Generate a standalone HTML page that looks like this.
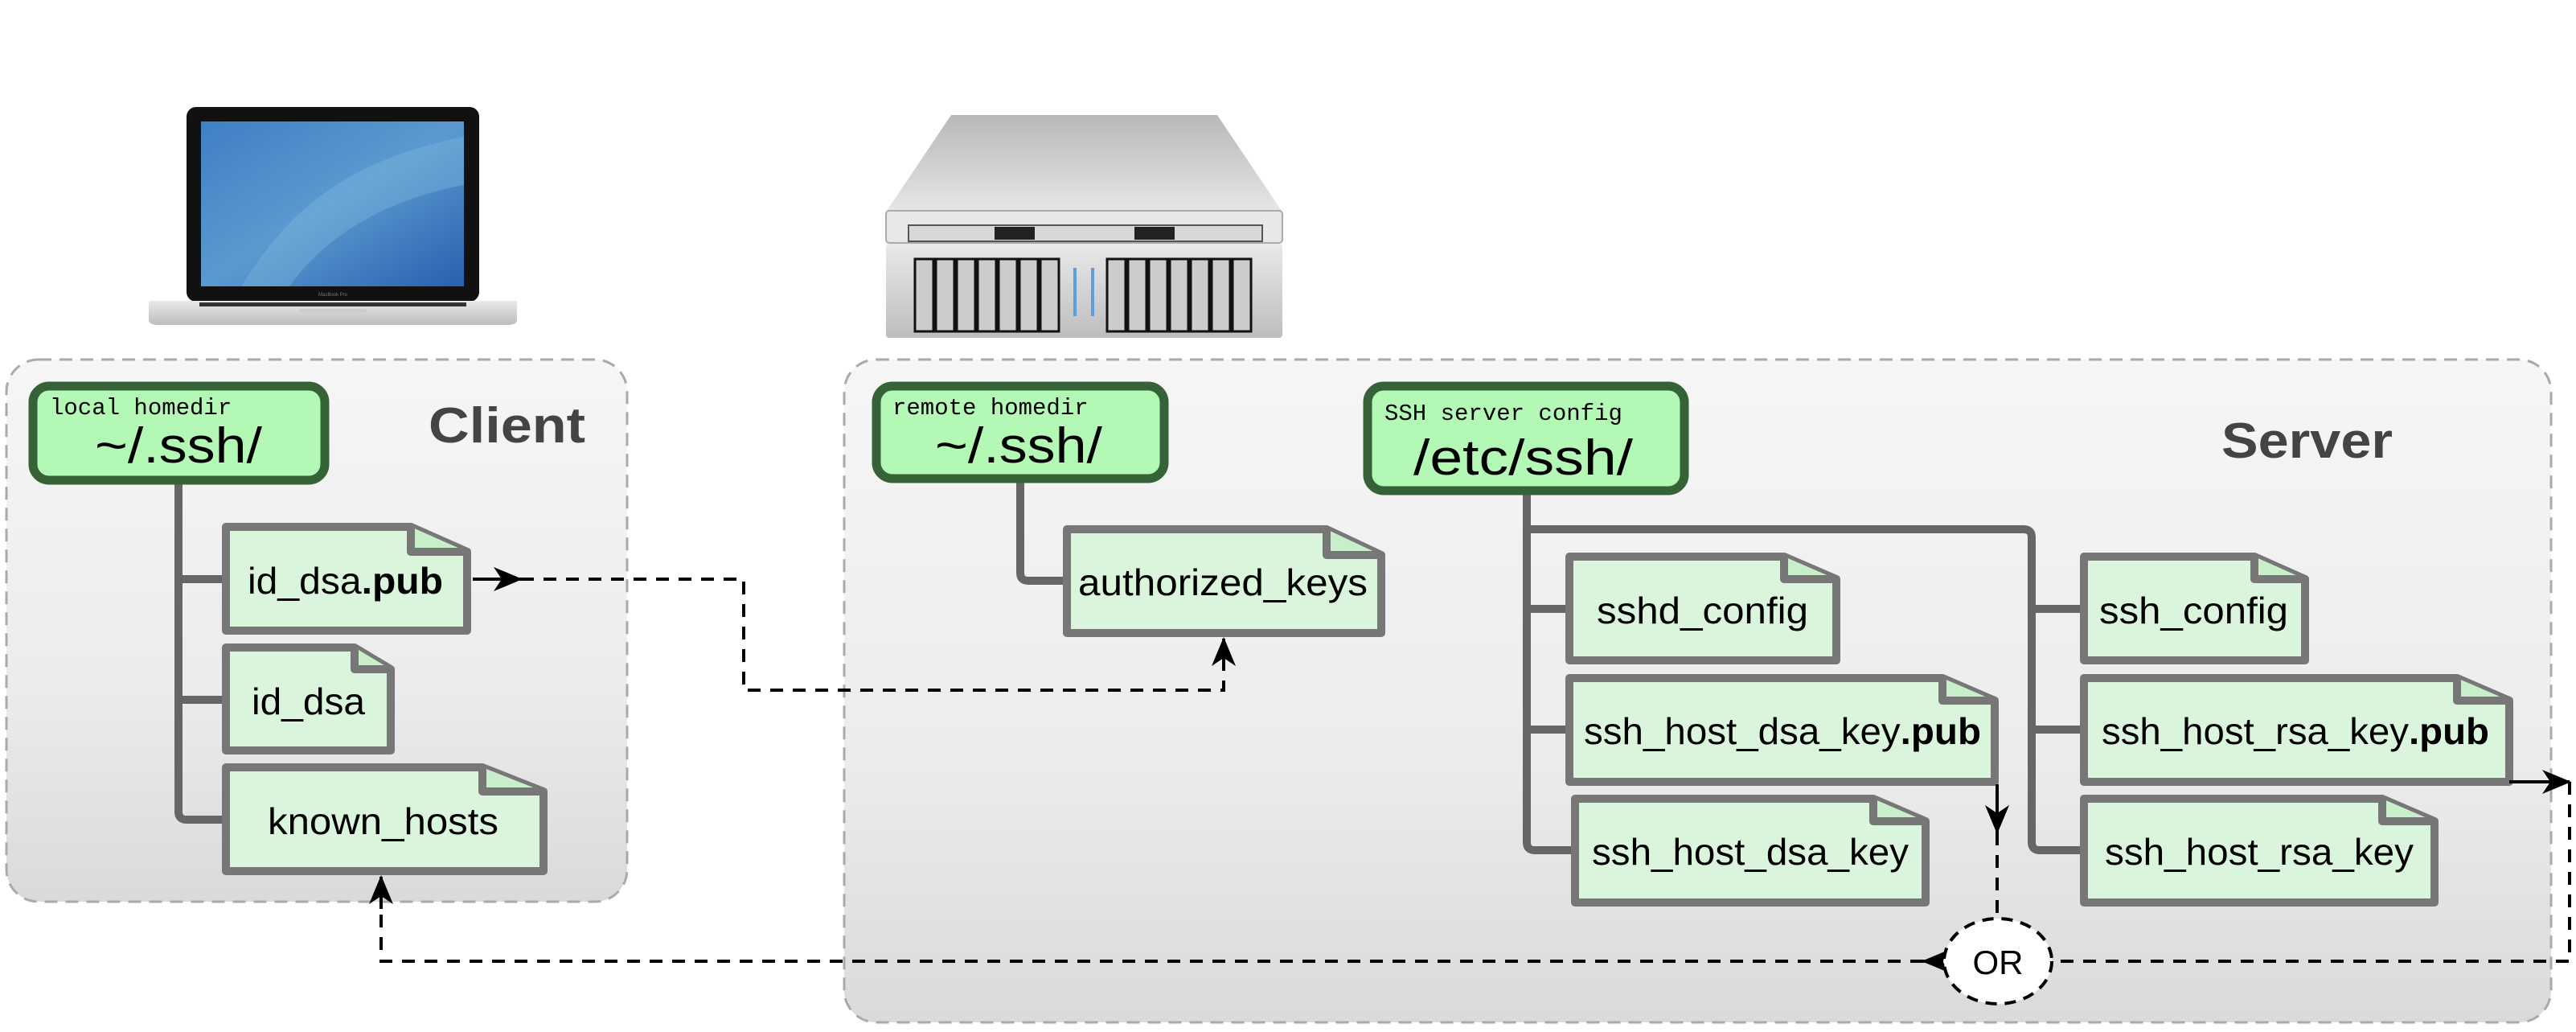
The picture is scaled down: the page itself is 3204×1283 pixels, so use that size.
<!DOCTYPE html>
<html><head><meta charset="utf-8"><style>
html,body{margin:0;padding:0;background:#fff;}
svg{display:block}
.f{font-family:"Liberation Sans",sans-serif;font-size:46px;fill:#000}
.m{font-family:"Liberation Mono",monospace;font-size:29px;fill:#000}
.big{font-family:"Liberation Sans",sans-serif;font-size:62px;fill:#000}
.t{font-family:"Liberation Sans",sans-serif;font-size:62px;font-weight:bold;fill:#444}
</style></head><body>
<svg width="3204" height="1283" viewBox="0 0 3204 1283" xmlns="http://www.w3.org/2000/svg">
<defs>
<linearGradient id="gb" x1="0" y1="0" x2="0" y2="1"><stop offset="0" stop-color="#f6f6f6"/><stop offset="0.6" stop-color="#ececec"/><stop offset="1" stop-color="#dadada"/></linearGradient>
<linearGradient id="scr" x1="0" y1="0" x2="1" y2="1"><stop offset="0" stop-color="#3f7fc4"/><stop offset="0.5" stop-color="#5a9ad0"/><stop offset="1" stop-color="#2a5fae"/></linearGradient>
<linearGradient id="sil" x1="0" y1="0" x2="0" y2="1"><stop offset="0" stop-color="#e9e9e9"/><stop offset="1" stop-color="#bdbdbd"/></linearGradient>
<linearGradient id="top" x1="0" y1="0" x2="0" y2="1"><stop offset="0" stop-color="#b8b8b8"/><stop offset="1" stop-color="#e6e6e6"/></linearGradient>
<marker id="ah" markerWidth="36" markerHeight="30" refX="34" refY="15" orient="auto" markerUnits="userSpaceOnUse" viewBox="0 0 36 30"><path d="M0,0 L36,15 L0,30 L10,15 Z" fill="#000"/></marker>
</defs>

<!-- laptop -->
<rect x="232" y="133" width="364" height="242" rx="12" fill="#111"/>
<rect x="250" y="151" width="327" height="205" fill="url(#scr)"/>
<path d="M300,356 C360,260 430,200 577,170 L577,230 C470,250 400,300 360,356 Z" fill="#7db3dc" opacity="0.45"/>
<text x="414" y="368" font-family="Liberation Sans" font-size="6" fill="#777" text-anchor="middle">MacBook Pro</text>
<path d="M185,374 L643,374 L643,398 Q643,404 630,404 L198,404 Q185,404 185,398 Z" fill="url(#sil)"/>
<rect x="248" y="376" width="332" height="5" fill="#333"/>
<rect x="372" y="384" width="84" height="5" rx="2" fill="#ccc"/>

<!-- server -->
<path d="M1183,143 L1514,143 L1594,262 L1103,262 Z" fill="url(#top)"/>
<rect x="1102" y="262" width="493" height="40" rx="4" fill="#e8e8e8" stroke="#aaa" stroke-width="2"/>
<rect x="1130" y="280" width="440" height="20" fill="#d8d8d8" stroke="#555" stroke-width="2"/>
<rect x="1237" y="282" width="50" height="16" fill="#222"/>
<rect x="1411" y="282" width="50" height="16" fill="#222"/>
<rect x="1102" y="303" width="493" height="117" rx="4" fill="url(#sil)"/>
<g fill="#ccc" stroke="#111" stroke-width="3">
<rect x="1138" y="322" width="23" height="90"/><rect x="1164" y="322" width="23" height="90"/><rect x="1190" y="322" width="23" height="90"/><rect x="1216" y="322" width="23" height="90"/><rect x="1242" y="322" width="23" height="90"/><rect x="1268" y="322" width="23" height="90"/><rect x="1294" y="322" width="23" height="90"/>
<rect x="1377" y="322" width="23" height="90"/><rect x="1403" y="322" width="23" height="90"/><rect x="1429" y="322" width="23" height="90"/><rect x="1455" y="322" width="23" height="90"/><rect x="1481" y="322" width="23" height="90"/><rect x="1507" y="322" width="23" height="90"/><rect x="1533" y="322" width="23" height="90"/>
</g>
<rect x="1335" y="333" width="4" height="60" fill="#5aa0e0"/><rect x="1357" y="333" width="4" height="60" fill="#5aa0e0"/>

<!-- group boxes -->
<rect x="8" y="447" width="772" height="674" rx="40" fill="url(#gb)" stroke="#aaa" stroke-width="3" stroke-dasharray="16,10"/>
<rect x="1050" y="447" width="2123" height="824" rx="40" fill="url(#gb)" stroke="#aaa" stroke-width="3" stroke-dasharray="16,10"/>
<text class="t" x="533" y="550" textLength="195" lengthAdjust="spacingAndGlyphs">Client</text>
<text class="t" x="2763" y="569" textLength="213" lengthAdjust="spacingAndGlyphs">Server</text>

<!-- tree lines -->
<g fill="none" stroke="#666" stroke-width="10" stroke-linecap="round">
<path d="M222,600 L222,1009 Q222,1019 232,1019 L280,1019"/>
<path d="M222,720 L280,720 M222,870 L280,870"/>
<path d="M1269,600 L1269,712 Q1269,722 1279,722 L1326,722"/>
<path d="M1899,615 L1899,1047 Q1899,1057 1909,1057 L1956,1057"/>
<path d="M1899,757 L1950,757 M1899,907 L1950,907"/>
<path d="M1899,658 L2517,658 Q2527,658 2527,668 L2527,1047 Q2527,1057 2537,1057 L2590,1057"/>
<path d="M2527,757 L2590,757 M2527,907 L2590,907"/>
</g>

<!-- dir boxes -->
<g fill="#b3f9b5" stroke="#356337" stroke-width="11">
<rect x="41" y="480" width="363" height="117" rx="20"/>
<rect x="1090" y="480" width="358" height="115" rx="20"/>
<rect x="1701" y="480" width="394" height="130" rx="20"/>
</g>
<text class="m" x="62" y="515">local homedir</text>
<text class="big" x="118" y="575" textLength="208" lengthAdjust="spacingAndGlyphs">~/.ssh/</text>
<text class="m" x="1110" y="515">remote homedir</text>
<text class="big" x="1163" y="575" textLength="208" lengthAdjust="spacingAndGlyphs">~/.ssh/</text>
<text class="m" x="1722" y="522">SSH server config</text>
<text class="big" x="1758" y="590" textLength="273" lengthAdjust="spacingAndGlyphs">/etc/ssh/</text>

<!-- files -->
<g fill="#daf5dc" stroke="#777" stroke-width="10" stroke-linejoin="round">
<path d="M281,655 L511,655 L581,686 L581,784 L281,784 Z"/><path d="M511,655 L511,686 L581,686" fill="#c8efca"/>
<path d="M281,805 L441,805 L486,832 L486,933 L281,933 Z"/><path d="M441,805 L441,832 L486,832" fill="#c8efca"/>
<path d="M281,954 L600,954 L676,984 L676,1083 L281,1083 Z"/><path d="M600,954 L600,984 L676,984" fill="#c8efca"/>
<path d="M1327,658 L1650,658 L1718,690 L1718,787 L1327,787 Z"/><path d="M1650,658 L1650,690 L1718,690" fill="#c8efca"/>
<path d="M1952,692 L2219,692 L2284,720 L2284,821 L1952,821 Z"/><path d="M2219,692 L2219,720 L2284,720" fill="#c8efca"/>
<path d="M1952,843 L2416,843 L2481,871 L2481,972 L1952,972 Z"/><path d="M2416,843 L2416,871 L2481,871" fill="#c8efca"/>
<path d="M1959,993 L2330,993 L2395,1021 L2395,1122 L1959,1122 Z"/><path d="M2330,993 L2330,1021 L2395,1021" fill="#c8efca"/>
<path d="M2592,692 L2804,692 L2867,720 L2867,821 L2592,821 Z"/><path d="M2804,692 L2804,720 L2867,720" fill="#c8efca"/>
<path d="M2592,843 L3056,843 L3121,871 L3121,972 L2592,972 Z"/><path d="M3056,843 L3056,871 L3121,871" fill="#c8efca"/>
<path d="M2592,993 L2963,993 L3028,1021 L3028,1122 L2592,1122 Z"/><path d="M2963,993 L2963,1021 L3028,1021" fill="#c8efca"/>
</g>
<text class="f" x="308" y="738" textLength="243" lengthAdjust="spacingAndGlyphs">id_dsa<tspan font-weight="bold">.pub</tspan></text>
<text class="f" x="313" y="888" textLength="141" lengthAdjust="spacingAndGlyphs">id_dsa</text>
<text class="f" x="333" y="1037" textLength="287" lengthAdjust="spacingAndGlyphs">known_hosts</text>
<text class="f" x="1341" y="740" textLength="360" lengthAdjust="spacingAndGlyphs">authorized_keys</text>
<text class="f" x="1986" y="775" textLength="263" lengthAdjust="spacingAndGlyphs">sshd_config</text>
<text class="f" x="1970" y="925" textLength="494" lengthAdjust="spacingAndGlyphs">ssh_host_dsa_key<tspan font-weight="bold">.pub</tspan></text>
<text class="f" x="1980" y="1075" textLength="394" lengthAdjust="spacingAndGlyphs">ssh_host_dsa_key</text>
<text class="f" x="2611" y="775" textLength="235" lengthAdjust="spacingAndGlyphs">ssh_config</text>
<text class="f" x="2614" y="925" textLength="482" lengthAdjust="spacingAndGlyphs">ssh_host_rsa_key<tspan font-weight="bold">.pub</tspan></text>
<text class="f" x="2618" y="1075" textLength="384" lengthAdjust="spacingAndGlyphs">ssh_host_rsa_key</text>

<!-- connectors -->
<g fill="none" stroke="#000" stroke-width="4">
<line x1="588" y1="720" x2="648" y2="720" marker-end="url(#ah)"/>
<path d="M648,720 L925,720 L925,858 L1522,858 L1522,815" stroke-dasharray="16,12"/>
<line x1="1522" y1="830" x2="1522" y2="794" marker-end="url(#ah)"/>
<line x1="2484" y1="975" x2="2484" y2="1035" marker-end="url(#ah)"/>
<path d="M2484,1035 L2484,1141" stroke-dasharray="16,12"/>
<line x1="3121" y1="972" x2="3196" y2="972" marker-end="url(#ah)"/>
<path d="M3196,972 L3196,1195 L2553,1195" stroke-dasharray="16,12"/>
<line x1="2417" y1="1195" x2="2392" y2="1195" marker-end="url(#ah)"/>
<path d="M2392,1195 L474,1195 L474,1130" stroke-dasharray="16,12"/>
<line x1="474" y1="1130" x2="474" y2="1090" marker-end="url(#ah)"/>
</g>
<ellipse cx="2485" cy="1195" rx="67" ry="53" fill="#fff" stroke="#000" stroke-width="4" stroke-dasharray="14,10"/>
<text x="2485" y="1211" font-family="Liberation Sans" font-size="42" text-anchor="middle">OR</text>
</svg>
</body></html>
